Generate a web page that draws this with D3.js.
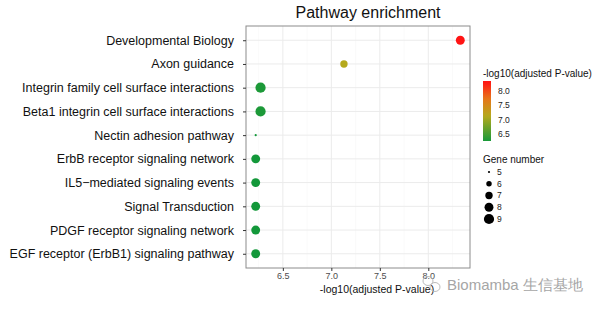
<!DOCTYPE html>
<html>
<head>
<meta charset="utf-8">
<script src="https://cdn.jsdelivr.net/npm/d3@7"></script>
<style>
  body { margin: 0; background: #fff; }
  text { font-family: "Liberation Sans", Arial, sans-serif; }
</style>
</head>
<body>
<div id="chart"></div>
<script>
// Data, top row first
let pathways = [
  "Developmental Biology",
  "Axon guidance",
  "Integrin family cell surface interactions",
  "Beta1 integrin cell surface interactions",
  "Nectin adhesion pathway",
  "ErbB receptor signaling network",
  "IL5\u2212mediated signaling events",
  "Signal Transduction",
  "PDGF receptor signaling network",
  "EGF receptor (ErbB1) signaling pathway"
];
let logP = [8.33, 7.13, 6.27, 6.27, 6.22, 6.22, 6.22, 6.22, 6.22, 6.22];
let geneCount = [8, 7, 9, 9, 5, 8, 8, 8, 8, 8];

let xTicks = [6.5, 7.0, 7.5, 8.0];
let xMinor = [6.25, 6.75, 7.25, 7.75, 8.25];
let colorTicks = [6.5, 7.0, 7.5, 8.0];
let sizeTicks = [5, 6, 7, 8, 9];

let rows = pathways.map((p, i) => ({ name: p, v: logP[i], n: geneCount[i] }));

// svg attributes
let svgWidth = 605;
let svgHeight = 310;
let panel = { left: 246, right: 470, top: 26, bottom: 268 };

let svg = d3.select("#chart")
  .append("svg")
  .attr("width", svgWidth)
  .attr("height", svgHeight);

// scales
let xScale = d3.scaleLinear()
  .domain([6.12, 8.43])
  .range([panel.left, panel.right]);

let yScale = d3.scalePoint()
  .domain(pathways)
  .range([panel.top, panel.bottom])
  .padding(0.6);

// green -> olive/yellow -> red, like the reference colourbar
let colorScale = d3.scaleLinear()
  .domain([6.22, 7.13, 7.75, 8.33])
  .range(["#13983a", "#b5a91c", "#e8741a", "#ff1414"])
  .clamp(true);

let sizeScale = d3.scaleRadial()
  .domain([5, 9])
  .range([1.1, 5.1]);

// panel background + grid
svg.append("rect")
  .attr("x", panel.left).attr("y", panel.top)
  .attr("width", panel.right - panel.left)
  .attr("height", panel.bottom - panel.top)
  .attr("fill", "#fff");

svg.selectAll(".minor")
  .data(xMinor)
  .enter().append("line")
  .attr("x1", d => xScale(d)).attr("x2", d => xScale(d))
  .attr("y1", panel.top).attr("y2", panel.bottom)
  .attr("stroke", "#f7f7f7").attr("stroke-width", 0.6);

svg.selectAll(".vgrid")
  .data(xTicks)
  .enter().append("line")
  .attr("x1", d => xScale(d)).attr("x2", d => xScale(d))
  .attr("y1", panel.top).attr("y2", panel.bottom)
  .attr("stroke", "#ebebeb").attr("stroke-width", 1);

svg.selectAll(".hgrid")
  .data(pathways)
  .enter().append("line")
  .attr("x1", panel.left).attr("x2", panel.right)
  .attr("y1", d => yScale(d)).attr("y2", d => yScale(d))
  .attr("stroke", "#ebebeb").attr("stroke-width", 1);

svg.append("rect")
  .attr("x", panel.left).attr("y", panel.top)
  .attr("width", panel.right - panel.left)
  .attr("height", panel.bottom - panel.top)
  .attr("fill", "none")
  .attr("stroke", "#8c8c8c").attr("stroke-width", 1);

// axes
let xAxis = svg.append("g")
  .attr("transform", `translate(0,${panel.bottom})`)
  .call(d3.axisBottom(xScale).tickValues(xTicks).tickFormat(d3.format(".1f")).tickSize(3).tickPadding(2));
xAxis.select(".domain").remove();
xAxis.selectAll("line").attr("stroke", "#333");
xAxis.selectAll("text").attr("fill", "#4d4d4d").attr("font-size", 9)
  .attr("font-family", "Liberation Sans, Arial, sans-serif");

let yAxis = svg.append("g")
  .attr("transform", `translate(${panel.left},0)`)
  .call(d3.axisLeft(yScale).tickSize(3).tickPadding(9));
yAxis.select(".domain").remove();
yAxis.selectAll("line").attr("stroke", "#333");
yAxis.selectAll("text").attr("fill", "#111").attr("font-size", 12.5)
  .attr("font-family", "Liberation Sans, Arial, sans-serif");

// points
svg.selectAll(".dot")
  .data(rows)
  .enter().append("circle")
  .attr("cx", d => xScale(d.v))
  .attr("cy", d => yScale(d.name))
  .attr("r", d => sizeScale(d.n))
  .attr("fill", d => colorScale(d.v));

// titles
svg.append("text")
  .attr("x", 368).attr("y", 18)
  .attr("text-anchor", "middle")
  .attr("font-size", 16)
  .attr("fill", "#111")
  .text("Pathway enrichment");

svg.append("text")
  .attr("x", 377).attr("y", 293)
  .attr("text-anchor", "middle")
  .attr("font-size", 10.5)
  .attr("fill", "#111")
  .text("-log10(adjusted P-value)");

// colour legend
let barX = 483, barW = 8, barTop = 81, barBottom = 141;
let barScale = d3.scaleLinear().domain([6.25, 8.36]).range([barBottom, barTop]);

svg.append("text")
  .attr("x", barX).attr("y", 76.5)
  .attr("font-size", 10)
  .attr("fill", "#111")
  .text("-log10(adjusted P-value)");

let grad = svg.append("defs").append("linearGradient")
  .attr("id", "cbar")
  .attr("x1", 0).attr("y1", 1).attr("x2", 0).attr("y2", 0);
d3.range(0, 1.001, 0.05).forEach(t => {
  let v = barScale.domain()[0] + t * (barScale.domain()[1] - barScale.domain()[0]);
  grad.append("stop").attr("offset", t).attr("stop-color", colorScale(v));
});

svg.append("rect")
  .attr("x", barX).attr("y", barTop)
  .attr("width", barW).attr("height", barBottom - barTop)
  .attr("fill", "url(#cbar)");

svg.selectAll(".ctick")
  .data(colorTicks)
  .enter().append("text")
  .attr("x", 498)
  .attr("y", d => barScale(d))
  .attr("dy", "0.35em")
  .attr("font-size", 8.5)
  .attr("fill", "#222")
  .text(d => d3.format(".1f")(d));

// size legend
svg.append("text")
  .attr("x", barX).attr("y", 163)
  .attr("font-size", 10)
  .attr("fill", "#111")
  .text("Gene number");

let sizeY = d3.scalePoint().domain(sizeTicks).range([172, 219]);

svg.selectAll(".sdot")
  .data(sizeTicks)
  .enter().append("circle")
  .attr("cx", 489)
  .attr("cy", d => sizeY(d))
  .attr("r", d => sizeScale(d))
  .attr("fill", "#000");

svg.selectAll(".slab")
  .data(sizeTicks)
  .enter().append("text")
  .attr("x", 497)
  .attr("y", d => sizeY(d))
  .attr("dy", "0.35em")
  .attr("font-size", 8.5)
  .attr("fill", "#222")
  .text(d => d);

// watermark
let wm = svg.append("g").attr("fill", "none").attr("stroke", "#bbb").attr("stroke-width", 1);
wm.append("ellipse").attr("cx", 428).attr("cy", 281).attr("rx", 5).attr("ry", 4.5);
wm.append("ellipse").attr("cx", 435).attr("cy", 287).attr("rx", 5).attr("ry", 4.5);

svg.append("text")
  .attr("x", 447).attr("y", 290)
  .attr("font-size", 15)
  .attr("fill", "#a6a6a6")
  .text("Biomamba 生信基地");
</script>
</body>
</html>
